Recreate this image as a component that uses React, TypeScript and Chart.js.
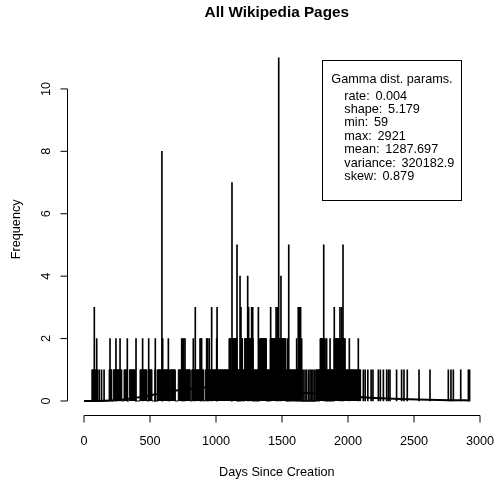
import React, { useEffect, useRef } from "react";
import { Chart, registerables } from "chart.js";

Chart.register(...registerables);

const FONT = '"Liberation Sans", Arial, Helvetica, sans-serif';

// ---- text ----
const chartTitle = "All Wikipedia Pages";
const xTitle = "Days Since Creation";
const yTitle = "Frequency";
const xTicks = [0, 500, 1000, 1500, 2000, 2500, 3000];
const yTicks = [0, 2, 4, 6, 8, 10];
const legendTitle = "Gamma dist. params.";
const legendLabels = ["rate:", "shape:", "min:", "max:", "mean:", "variance:", "skew:"];
const legendValues = ["0.004", "5.179", "59", "2921", "1287.697", "320182.9", "0.879"];

// ---- data ----
// stretches of days where (nearly) every day has at least one page
const run1Start = [59, 190, 222, 303, 343, 424, 487, 560, 652, 714, 816, 917, 1755];
const run1End = [96, 209, 285, 323, 386, 475, 513, 645, 690, 803, 904, 1650, 2095];
// stretches where (nearly) every day has at least two pages
const run2Start = [1098, 1125, 1185, 1215, 1330, 1410, 1788, 1894];
const run2End = [1112, 1157, 1200, 1280, 1380, 1525, 1826, 1977];

// isolated days and their page counts
const spikeDays = [
  103, 116, 133, 152, 538, 556, 1660, 1674, 1685, 1700, 1712, 1722, 1734, 1745, 2116, 2130, 2150,
  2175, 2189, 2230, 2245, 2268, 2293, 2306, 2318, 2368, 2406, 2424, 2449, 2538, 2621, 2760, 2780,
  2798, 2854, 2912, 2921,
  96, 197, 242, 273, 328, 394, 444, 490, 540, 596, 639, 740, 747, 756, 765, 828, 879, 886, 891,
  929, 937, 949, 1005, 1540, 1611, 1649, 1838, 1864, 2010, 2078,
  78, 843, 967, 1008, 1189, 1247, 1270, 1278, 1321, 1414, 1455, 1465, 1623, 1632, 1641, 1896, 1939, 1952,
  1182, 1240, 1492,
  1159, 1551, 1816, 1962,
  1121,
  590,
  1475,
];
const spikeCounts = [
  1, 1, 1, 1, 1, 1, 1, 1, 1, 1, 1, 1, 1, 1, 1, 1, 1,
  1, 1, 1, 1, 1, 1, 1, 1, 1, 1, 1, 1, 1, 1, 1, 1,
  1, 1, 1, 1,
  2, 2, 2, 2, 2, 2, 2, 2, 2, 2, 2, 2, 2, 2, 2, 2, 2, 2, 2,
  2, 2, 2, 2, 2, 2, 2, 2, 2, 2, 2,
  3, 3, 3, 3, 3, 3, 3, 3, 3, 3, 3, 3, 3, 3, 3, 3, 3, 3,
  4, 4, 4,
  5, 5, 5, 5,
  7,
  8,
  11,
];

// fitted gamma density curve (scaled)
const curveDays = [0, 100, 200, 300, 400, 500, 600, 700, 800, 900, 1045, 1200, 1400, 1600, 1800, 2000, 2200, 2400, 2600, 2800, 2921];
const curveValues = [0, 0.001, 0.013, 0.048, 0.107, 0.183, 0.262, 0.335, 0.393, 0.43, 0.45, 0.431, 0.369, 0.29, 0.213, 0.149, 0.099, 0.064, 0.04, 0.025, 0.018];

function runPolygon(starts: number[], ends: number[], level: number) {
  const pts: { x: number; y: number }[] = [];
  starts.forEach((s, i) => {
    pts.push({ x: s, y: 0 }, { x: s, y: level }, { x: ends[i], y: level }, { x: ends[i], y: 0 });
  });
  return pts;
}

const rStyle = {
  id: "rStyle",
  afterDraw(chart: any) {
    const { ctx, chartArea } = chart;
    const xs = chart.scales.x;
    const ys = chart.scales.y;
    ctx.save();
    ctx.strokeStyle = "#000";
    ctx.fillStyle = "#000";
    ctx.lineWidth = 1;

    // x axis
    const ya = Math.round(chartArea.bottom) + 0.5;
    ctx.beginPath();
    ctx.moveTo(xs.getPixelForValue(xTicks[0]), ya);
    ctx.lineTo(xs.getPixelForValue(xTicks[xTicks.length - 1]), ya);
    xTicks.forEach((t) => {
      const p = xs.getPixelForValue(t);
      ctx.moveTo(p, ya);
      ctx.lineTo(p, ya + 7);
    });
    // y axis
    const xa = Math.floor(chartArea.left) - 0.5;
    ctx.moveTo(xa, ys.getPixelForValue(yTicks[0]));
    ctx.lineTo(xa, ys.getPixelForValue(yTicks[yTicks.length - 1]));
    yTicks.forEach((t) => {
      const p = ys.getPixelForValue(t);
      ctx.moveTo(xa, p);
      ctx.lineTo(xa - 7, p);
    });
    ctx.stroke();

    ctx.font = `12.7px ${FONT}`;
    ctx.textAlign = "center";
    ctx.textBaseline = "alphabetic";
    xTicks.forEach((t) => {
      ctx.fillText(String(t), xs.getPixelForValue(t), ya + 29.5);
    });
    yTicks.forEach((t) => {
      ctx.save();
      ctx.translate(xa - 17.5, ys.getPixelForValue(t));
      ctx.rotate(-Math.PI / 2);
      ctx.fillText(String(t), 0, 0);
      ctx.restore();
    });

    // axis titles
    const cx = (chartArea.left + chartArea.right) / 2;
    ctx.fillText(xTitle, cx, 475.5);
    ctx.save();
    ctx.translate(20.3, (chartArea.top + chartArea.bottom) / 2);
    ctx.rotate(-Math.PI / 2);
    ctx.fillText(yTitle, 0, 0);
    ctx.restore();

    // main title
    ctx.font = `bold 15.3px ${FONT}`;
    ctx.fillText(chartTitle, cx, 16.7);

    // legend box
    ctx.strokeRect(322.5, 60.5, 139, 140);
    ctx.font = `12.7px ${FONT}`;
    ctx.textAlign = "center";
    ctx.fillText(legendTitle, 392, 83);
    ctx.textAlign = "left";
    legendLabels.forEach((l, i) => {
      const y = 99.5 + 13.4 * i;
      ctx.fillText(l, 344.3, y);
      ctx.fillText(legendValues[i], 344.3 + ctx.measureText(l + " ").width + 2.2, y);
    });
    ctx.restore();
  },
};

export default function App() {
  const ref = useRef<HTMLCanvasElement>(null);
  useEffect(() => {
    if (!ref.current) return;
    const chart = new Chart(ref.current, {
      type: "bar",
      data: {
        datasets: [
          {
            type: "line",
            data: runPolygon(run1Start, run1End, 1),
            borderColor: "#000",
            backgroundColor: "#000",
            borderWidth: 1,
            fill: "origin",
            pointRadius: 0,
            tension: 0,
            order: 3,
          } as any,
          {
            type: "line",
            data: runPolygon(run2Start, run2End, 2),
            borderColor: "#000",
            backgroundColor: "#000",
            borderWidth: 1,
            fill: "origin",
            pointRadius: 0,
            tension: 0,
            order: 2,
          } as any,
          {
            type: "bar",
            data: spikeDays.map((d, i) => ({ x: d, y: spikeCounts[i] })),
            backgroundColor: "#000",
            borderWidth: 0,
            barThickness: 1,
            order: 1,
          } as any,
          {
            type: "line",
            data: curveDays.map((d, i) => ({ x: d, y: curveValues[i] })),
            borderColor: "#000",
            borderWidth: 2,
            fill: false,
            pointRadius: 0,
            cubicInterpolationMode: "monotone",
            order: 0,
          } as any,
        ],
      },
      options: {
        responsive: false,
        animation: false,
        devicePixelRatio: 1,
        layout: { padding: { left: 68.6, right: 11, top: 44, bottom: 66.3 } },
        scales: {
          x: { type: "linear", min: -116.8, max: 3037.8, offset: false, display: false },
          y: { type: "linear", min: -0.44, max: 11.44, display: false },
        },
        plugins: {
          legend: { display: false },
          tooltip: { enabled: false },
          title: { display: false },
        },
      },
      plugins: [rStyle],
    });
    return () => chart.destroy();
  }, []);
  return (
    <div style={{ position: "fixed", left: 0, top: 0, width: 496, height: 481, background: "#fff" }}>
      <canvas ref={ref} width={496} height={481} />
    </div>
  );
}
